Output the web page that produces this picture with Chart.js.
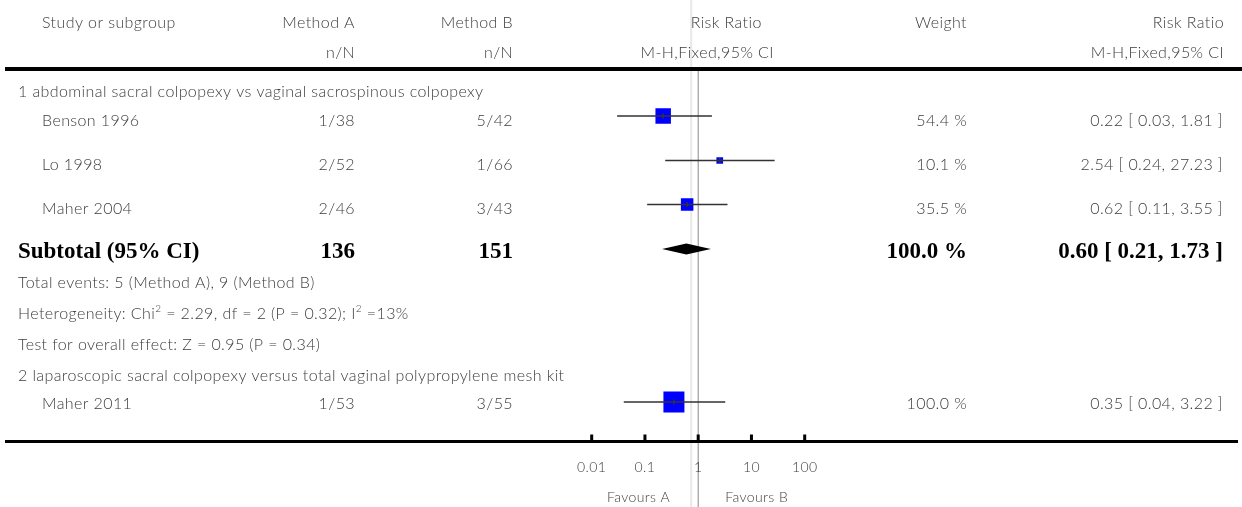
<!DOCTYPE html>
<html>
<head>
<meta charset="utf-8">
<script src="https://cdn.jsdelivr.net/npm/chart.js@4.4.1/dist/chart.umd.min.js"></script>
<style>
  html, body { margin: 0; padding: 0; background: #fff; }
  #wrap { position: relative; width: 1242px; height: 507px; }
</style>
</head>
<body>
<div id="wrap"><canvas id="forest"></canvas></div>
<script>
// data
const subgroups = [
  "1 abdominal sacral colpopexy vs vaginal sacrospinous colpopexy",
  "2 laparoscopic sacral colpopexy versus total vaginal polypropylene mesh kit"
];
const studies = ["Benson 1996", "Lo 1998", "Maher 2004", "Maher 2011"];
const studyGroup = [0, 0, 0, 1];
const eventsA = [1, 2, 2, 1];
const totalA = [38, 52, 46, 53];
const eventsB = [5, 1, 3, 3];
const totalB = [42, 66, 43, 55];
const riskRatio = [0.22, 2.54, 0.62, 0.35];
const ciLow = [0.03, 0.24, 0.11, 0.04];
const ciHigh = [1.81, 27.23, 3.55, 3.22];
const weights = [54.4, 10.1, 35.5, 100.0];

// subtotal of subgroup 1
const subtotalRR = [0.60, 0.21, 1.73];   // estimate, low, high
const subtotalN = [136, 151];
const subtotalWeight = 100.0;
const totalEvents = [5, 9];
const heterogeneity = [2.29, 2, 0.32, 13]; // chi2, df, P, I2
const overallEffect = [0.95, 0.34];        // Z, P

const axisTicks = [0.01, 0.1, 1, 10, 100];

// layout (pixel rows of the table)
const ROW = {
  head1: 23, head2: 53, topLine: 69, grp: [92, 376],
  study: [116, 160.5, 204.5, 402], studyText: [121, 165, 209, 404], subtotal: 249,
  events: 283, het: 314, test: 345, axisLine: 441.5, tickLab: 467, favours: 497
};
const COL = { study: 42, group: 18, nA: 355, nB: 513, weight: 967, ci: 1223 };
const FONT = "'Lato', 'Open Sans', sans-serif";
const REG = "300 16px " + FONT;
const SMALL = "300 14px " + FONT;
const BOLD = "bold 23px 'Liberation Serif', 'Times New Roman', serif";
const TXT = "#3c3c3c";

function fmt2(v) { return v.toFixed(2); }

function txt(ctx, s, x, y, align, font, color) {
  ctx.font = font || REG;
  ctx.fillStyle = color || TXT;
  ctx.textAlign = align || "left";
  ctx.textBaseline = "middle";
  ctx.letterSpacing = (font === BOLD) ? "0px" : "0.4px";
  ctx.fillText(s, x, y);
}

// text with superscript pieces: parts = [[text, sup?], ...]
function supText(ctx, parts, x, y) {
  var cx = x;
  parts.forEach(function (p) {
    var f = p[1] ? "300 10px " + FONT : REG;
    txt(ctx, p[0], cx, p[1] ? y - 5 : y, "left", f);
    cx += ctx.measureText(p[0]).width;
  });
}

const forestPlugin = {
  id: "forest",
  beforeDatasetsDraw(chart) {
    const ctx = chart.ctx;
    const xs = chart.scales.x;
    const nullX = xs.getPixelForValue(1);
    ctx.save();

    // faint guide + line of no effect
    ctx.strokeStyle = "#e8e8e8";
    ctx.lineWidth = 2;
    ctx.beginPath(); ctx.moveTo(nullX - 7, 0); ctx.lineTo(nullX - 7, 507); ctx.stroke();
    ctx.strokeStyle = "#888";
    ctx.lineWidth = 1;
    ctx.beginPath(); ctx.moveTo(nullX, ROW.topLine); ctx.lineTo(nullX, 507); ctx.stroke();

    // header
    txt(ctx, "Study or subgroup", COL.study, ROW.head1);
    txt(ctx, "Method A", COL.nA, ROW.head1, "right");
    txt(ctx, "Method B", COL.nB, ROW.head1, "right");
    txt(ctx, "n/N", COL.nA, ROW.head2, "right");
    txt(ctx, "n/N", COL.nB, ROW.head2, "right");
    txt(ctx, "Risk Ratio", nullX + 28, ROW.head1, "center");
    txt(ctx, "M-H,Fixed,95% CI", nullX + 9, ROW.head2, "center");
    txt(ctx, "Weight", COL.weight, ROW.head1, "right");
    txt(ctx, "Risk Ratio", COL.ci + 1, ROW.head1, "right");
    txt(ctx, "M-H,Fixed,95% CI", COL.ci + 1, ROW.head2, "right");

    ctx.fillStyle = "#000";
    ctx.fillRect(5, ROW.topLine - 2, 1237, 4);

    // subgroup titles and study rows
    subgroups.forEach(function (g, i) { txt(ctx, g, COL.group, ROW.grp[i]); });
    studies.forEach(function (s, i) {
      var y = ROW.studyText[i];
      txt(ctx, s, COL.study, y);
      txt(ctx, eventsA[i] + "/" + totalA[i], COL.nA, y, "right");
      txt(ctx, eventsB[i] + "/" + totalB[i], COL.nB, y, "right");
      txt(ctx, weights[i].toFixed(1) + " %", COL.weight, y, "right");
      txt(ctx, fmt2(riskRatio[i]) + " [ " + fmt2(ciLow[i]) + ", " + fmt2(ciHigh[i]) + " ]", COL.ci, y, "right");
    });

    // subtotal
    var ys = ROW.subtotal + 3;
    txt(ctx, "Subtotal (95% CI)", COL.group, ys, "left", BOLD, "#000");
    txt(ctx, String(subtotalN[0]), COL.nA, ys, "right", BOLD, "#000");
    txt(ctx, String(subtotalN[1]), COL.nB, ys, "right", BOLD, "#000");
    txt(ctx, subtotalWeight.toFixed(1) + " %", COL.weight, ys, "right", BOLD, "#000");
    txt(ctx, fmt2(subtotalRR[0]) + " [ " + fmt2(subtotalRR[1]) + ", " + fmt2(subtotalRR[2]) + " ]", COL.ci, ys, "right", BOLD, "#000");

    txt(ctx, "Total events: " + totalEvents[0] + " (Method A), " + totalEvents[1] + " (Method B)", COL.group, ROW.events);
    supText(ctx, [["Heterogeneity: Chi"], ["2", true],
      [" = " + heterogeneity[0] + ", df = " + heterogeneity[1] + " (P = " + heterogeneity[2] + "); I"], ["2", true],
      [" =" + heterogeneity[3] + "%"]], COL.group, ROW.het);
    txt(ctx, "Test for overall effect: Z = " + overallEffect[0] + " (P = " + overallEffect[1] + ")", COL.group, ROW.test);

    // bottom axis
    ctx.fillStyle = "#000";
    ctx.fillRect(5, ROW.axisLine - 1.5, 1233, 3);
    axisTicks.forEach(function (t) {
      var x = xs.getPixelForValue(t);
      ctx.fillStyle = "#000";
      ctx.fillRect(x - 1.5, ROW.axisLine - 7, 3, 7);
      txt(ctx, String(t), x, ROW.tickLab, "center", SMALL);
    });
    txt(ctx, "Favours A", nullX - 28, ROW.favours, "right", SMALL);
    txt(ctx, "Favours B", nullX + 27, ROW.favours, "left", SMALL);
    ctx.restore();
  },
  afterDatasetsDraw(chart) {
    const ctx = chart.ctx;
    const xs = chart.scales.x;
    const ysc = chart.scales.y;
    ctx.save();
    // confidence intervals
    ctx.strokeStyle = "#333";
    ctx.lineWidth = 1.5;
    studies.forEach(function (s, i) {
      var y = ysc.getPixelForValue(ROW.study[i]);
      var x = xs.getPixelForValue(riskRatio[i]);
      ctx.beginPath();
      ctx.moveTo(xs.getPixelForValue(ciLow[i]), y);
      ctx.lineTo(xs.getPixelForValue(ciHigh[i]), y);
      ctx.moveTo(x, y - 2.5); ctx.lineTo(x, y + 2.5);
      ctx.stroke();
    });
    // subtotal diamond
    var yd = ysc.getPixelForValue(ROW.subtotal);
    ctx.fillStyle = "#000";
    ctx.beginPath();
    ctx.moveTo(xs.getPixelForValue(subtotalRR[1]), yd);
    ctx.lineTo(xs.getPixelForValue(subtotalRR[0]), yd - 5.5);
    ctx.lineTo(xs.getPixelForValue(subtotalRR[2]), yd);
    ctx.lineTo(xs.getPixelForValue(subtotalRR[0]), yd + 5.5);
    ctx.closePath();
    ctx.fill();
    ctx.restore();
  }
};

new Chart(document.getElementById("forest"), {
  type: "scatter",
  data: {
    datasets: [{
      label: "Risk ratio",
      data: studies.map(function (s, i) { return { x: riskRatio[i], y: ROW.study[i] }; }),
      pointStyle: "rect",
      // box side ~ 2.1 * sqrt(weight), rect radius = side / sqrt(2)
      pointRadius: weights.map(function (w) { return 2.1 * Math.sqrt(w) / Math.SQRT2; }),
      pointHoverRadius: weights.map(function (w) { return 2.1 * Math.sqrt(w) / Math.SQRT2; }),
      backgroundColor: "#0000ff",
      borderWidth: 0
    }]
  },
  options: {
    responsive: true,
    maintainAspectRatio: false,
    animation: false,
    layout: { autoPadding: false, padding: { left: 591.7, right: 437.3, top: 0, bottom: 0 } },
    plugins: { legend: { display: false }, tooltip: { enabled: false } },
    scales: {
      x: { type: "logarithmic", min: 0.01, max: 100, display: false },
      y: { type: "linear", min: 0, max: 507, reverse: true, display: false }
    }
  },
  plugins: [forestPlugin]
});
</script>
</body>
</html>
